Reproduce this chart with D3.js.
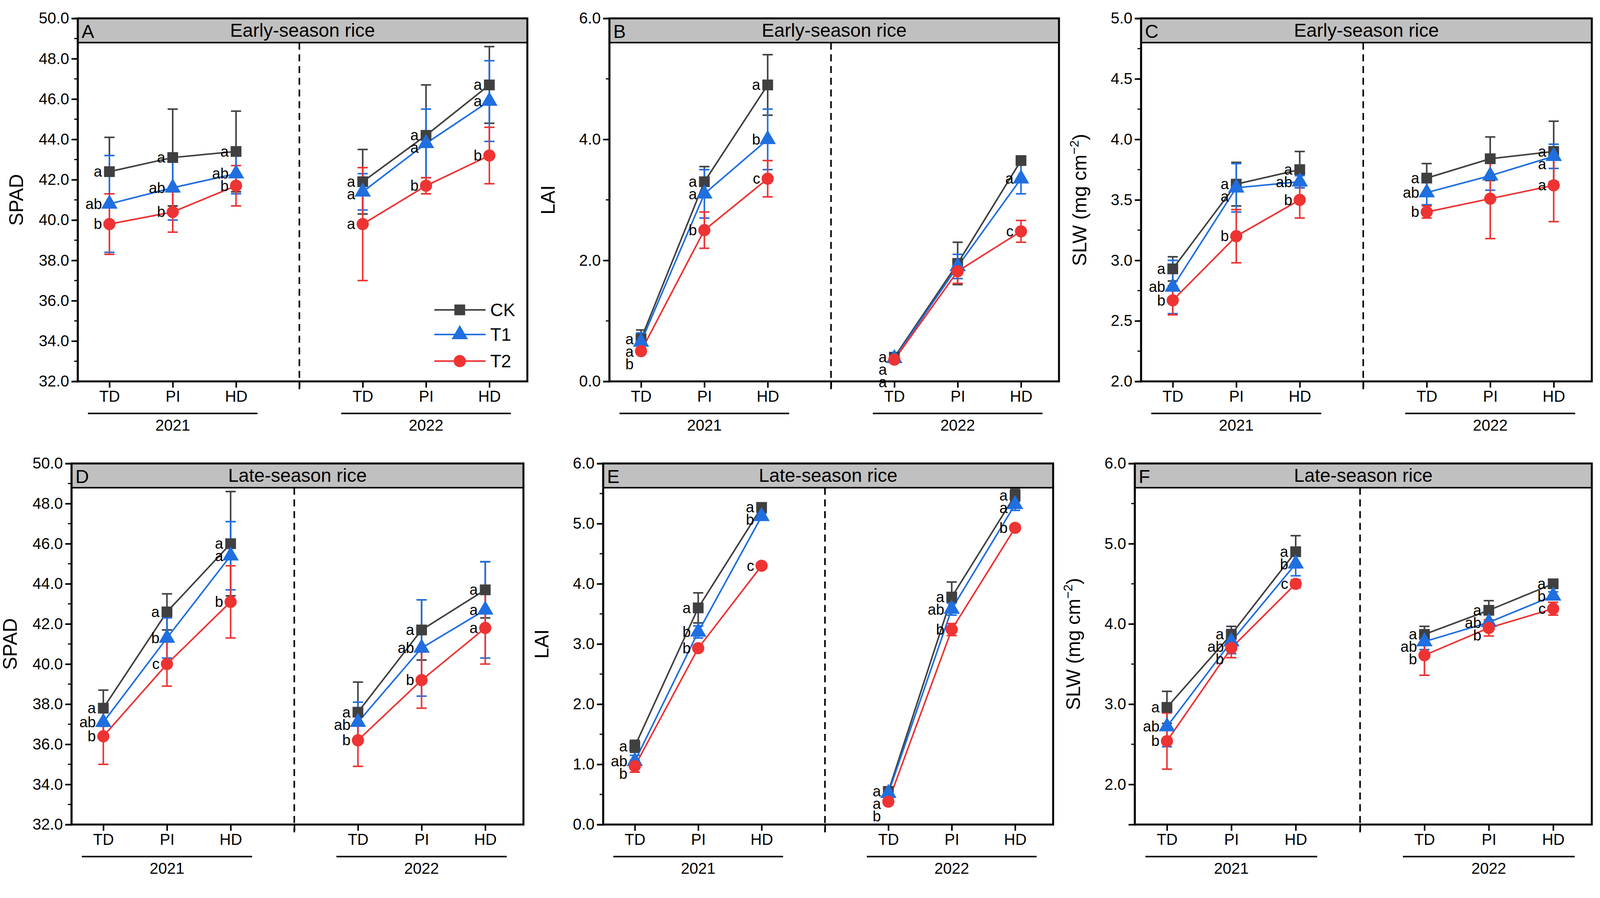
<!DOCTYPE html>
<html><head><meta charset="utf-8">
<script src="https://cdn.jsdelivr.net/npm/d3@7"></script>
<style>body{margin:0;background:#fff}text{font-family:Arial,"Liberation Sans",sans-serif}</style>
</head><body><svg id="c" width="4152" height="2298"></svg>
<script>
const stages=["TD","PI","HD"], years=["2021","2022"], series=["CK","T1","T2"];
const colors={CK:"#404040",T1:"#1f6fe0",T2:"#ee3333"};
// values: [2021 TD,PI,HD, 2022 TD,PI,HD]
const A_mean={CK:[42.4,43.1,43.4,41.9,44.2,46.7],T1:[40.8,41.6,42.3,41.4,43.8,45.9],T2:[39.8,40.4,41.7,39.8,41.7,43.2]};
const A_err={CK:[1.7,2.4,2.0,1.6,2.5,1.9],T1:[2.4,1.6,1.0,0.9,1.7,2.0],T2:[1.5,1.0,1.0,2.8,0.4,1.4]};
const A_let={CK:["a","a","a","a","a","a"],T1:["ab","ab","ab","a","a","a"],T2:["b","b","b","a","b","b"]};
const B_mean={CK:[0.7,3.3,4.9,0.4,1.95,3.65],T1:[0.65,3.1,4.0,0.38,1.9,3.35],T2:[0.5,2.5,3.35,0.36,1.82,2.48]};
const B_err={CK:[0.15,0.25,0.5,0.05,0.35,0.05],T1:[0.15,0.4,0.5,0.05,0.2,0.25],T2:[0.05,0.3,0.3,0.05,0.2,0.18]};
const B_let={CK:["a","a","a","a","",""],T1:["a","a","b","a","","a"],T2:["b","b","c","a","","c"]};
const C_mean={CK:[2.93,3.63,3.75,3.68,3.84,3.90],T1:[2.78,3.60,3.65,3.56,3.70,3.86],T2:[2.67,3.20,3.50,3.40,3.51,3.62]};
const C_err={CK:[0.1,0.18,0.15,0.12,0.18,0.25],T1:[0.22,0.2,0.05,0.1,0.12,0.1],T2:[0.12,0.22,0.15,0.05,0.33,0.3]};
const C_let={CK:["a","a","a","a","","a"],T1:["ab","a","ab","ab","","a"],T2:["b","b","b","b","","a"]};
const D_mean={CK:[37.8,42.6,46.0,37.6,41.7,43.7],T1:[37.1,41.3,45.4,37.1,40.8,42.7],T2:[36.4,40.0,43.1,36.2,39.2,41.8]};
const D_err={CK:[0.9,0.9,2.6,1.5,1.5,1.4],T1:[0.7,1.0,1.7,1.0,2.4,2.4],T2:[1.4,1.1,1.8,1.3,1.4,1.8]};
const D_let={CK:["a","a","a","a","a","a"],T1:["ab","b","a","ab","ab","a"],T2:["b","c","b","b","b","a"]};
const E_mean={CK:[1.3,3.6,5.27,0.55,3.78,5.47],T1:[1.05,3.2,5.12,0.52,3.58,5.32],T2:[0.97,2.93,4.3,0.38,3.24,4.93]};
const E_err={CK:[0.1,0.25,0.05,0.05,0.25,0.1],T1:[0.1,0.1,0.05,0.05,0.1,0.1],T2:[0.1,0.05,0.05,0.05,0.1,0.05]};
const E_let={CK:["a","a","a","a","a","a"],T1:["ab","b","b","a","ab","a"],T2:["b","b","c","b","b","b"]};
const F_mean={CK:[2.96,3.87,4.90,3.87,4.17,4.50],T1:[2.72,3.78,4.75,3.78,4.02,4.35],T2:[2.54,3.70,4.50,3.61,3.95,4.19]};
const F_err={CK:[0.2,0.1,0.2,0.1,0.12,0.05],T1:[0.25,0.15,0.15,0.1,0.1,0.05],T2:[0.35,0.12,0.05,0.25,0.1,0.08]};
const F_let={CK:["a","a","a","a","a","a"],T1:["ab","ab","b","ab","ab","b"],T2:["b","b","c","b","b","c"]};

const panels=[
 {id:"A",title:"Early-season rice",yl:"SPAD",dom:[32,50],ticks:d3.range(32,50.01,2),minor:1,m:A_mean,e:A_err,l:A_let,x0:199,x1:1350,y0:47,y1:976,legend:true},
 {id:"B",title:"Early-season rice",yl:"LAI",dom:[0,6],ticks:[0,2,4,6],minor:1,m:B_mean,e:B_err,l:B_let,x0:1560,x1:2711,y0:47,y1:976},
 {id:"C",title:"Early-season rice",yl:"SLW",dom:[2,5],ticks:d3.range(2,5.01,0.5),minor:0.25,m:C_mean,e:C_err,l:C_let,x0:2921,x1:4075,y0:47,y1:976},
 {id:"D",title:"Late-season rice",yl:"SPAD",dom:[32,50],ticks:d3.range(32,50.01,2),minor:1,m:D_mean,e:D_err,l:D_let,x0:183,x1:1340,y0:1186,y1:2110},
 {id:"E",title:"Late-season rice",yl:"LAI",dom:[0,6],ticks:d3.range(0,6.01,1),minor:0.5,m:E_mean,e:E_err,l:E_let,x0:1544,x1:2696,y0:1186,y1:2110},
 {id:"F",title:"Late-season rice",yl:"SLW",dom:[1.5,6],ticks:[2,3,4,5,6],minor:0.5,m:F_mean,e:F_err,l:F_let,x0:2905,x1:4075,y0:1186,y1:2110}
];
const svg=d3.select("#c");
const pos=[1,2,3,5,6,7];
panels.forEach(p=>{
 const g=svg.append("g");
 const x=d3.scaleLinear().domain([0.5,7.6]).range([p.x0,p.x1]);
 const y=d3.scaleLinear().domain(p.dom).range([p.y1,p.y0]);
 g.append("rect").attr("x",p.x0).attr("y",p.y0).attr("width",p.x1-p.x0).attr("height",62).attr("fill","#c0c0c0").attr("stroke","#000").attr("stroke-width",4);
 g.append("text").attr("x",(p.x0+p.x1)/2).attr("y",p.y0+47).attr("text-anchor","middle").attr("font-size",48).text(p.title);
 g.append("text").attr("x",p.x0+10).attr("y",p.y0+50).attr("font-size",48).text(p.id);
 const ya=d3.axisLeft(y).tickValues(p.ticks).tickFormat(d3.format(".1f")).tickSize(16).tickPadding(6);
 const ay=g.append("g").attr("transform",`translate(${p.x0},0)`).call(ya);
 ay.selectAll("text").attr("font-size",40).attr("fill","#000");
 ay.selectAll("line,path").attr("stroke","#000").attr("stroke-width",4);
 const mins=d3.range(p.dom[0],p.dom[1]+1e-9,p.minor);
 g.append("g").selectAll("line").data(mins).join("line").attr("x1",p.x0-9).attr("x2",p.x0).attr("y1",d=>y(d)).attr("y2",d=>y(d)).attr("stroke","#000").attr("stroke-width",3);
 g.append("rect").attr("x",p.x0).attr("y",p.y0).attr("width",p.x1-p.x0).attr("height",p.y1-p.y0).attr("fill","none").attr("stroke","#000").attr("stroke-width",5);
 const xa=d3.axisBottom(x).tickValues([1,2,3,4,5,6,7]).tickFormat(d=>d===4?"":stages[(d>4?d-5:d-1)]).tickSize(16).tickPadding(8);
 const ax=g.append("g").attr("transform",`translate(0,${p.y1})`).call(xa);
 ax.select("path").remove();
 ax.selectAll("line").attr("stroke","#000").attr("stroke-width",4);
 ax.selectAll("text").attr("font-size",40).attr("fill","#000");
 years.forEach((yr,i)=>{
  const a=x(i?5:1)-55,b=x(i?7:3)+55;
  g.append("line").attr("x1",a).attr("x2",b).attr("y1",p.y1+82).attr("y2",p.y1+82).attr("stroke","#000").attr("stroke-width",4);
  g.append("text").attr("x",(a+b)/2).attr("y",p.y1+126).attr("text-anchor","middle").attr("font-size",40).text(yr);
 });
 g.append("line").attr("x1",x(4)).attr("x2",x(4)).attr("y1",p.y0+62).attr("y2",p.y1+20).attr("stroke","#000").attr("stroke-width",4).attr("stroke-dasharray","18,12");
 const yt=g.append("text").attr("transform",`translate(${p.x0-140},${(p.y0+p.y1)/2}) rotate(-90)`).attr("text-anchor","middle").attr("font-size",50);
 if(p.yl==="SLW"){yt.text("SLW (mg cm");yt.append("tspan").attr("font-size",32).attr("dy",-20).text("−2");yt.append("tspan").attr("dy",20).text(")");}
 else yt.text(p.yl);
 const line=d3.line().x(d=>x(d[0])).y(d=>y(d[1]));
 series.forEach(s=>{
  const c=colors[s];
  [0,1].forEach(k=>{
   const pts=[0,1,2].map(j=>[pos[k*3+j],p.m[s][k*3+j]]);
   g.append("path").attr("d",line(pts)).attr("fill","none").attr("stroke",c).attr("stroke-width",4);
  });
  pos.forEach((xp,i)=>{
   const v=p.m[s][i],e=p.e[s][i],X=x(xp);
   g.append("line").attr("x1",X).attr("x2",X).attr("y1",y(v-e)).attr("y2",y(v+e)).attr("stroke",c).attr("stroke-width",4);
   [v-e,v+e].forEach(t=>g.append("line").attr("x1",X-13).attr("x2",X+13).attr("y1",y(t)).attr("y2",y(t)).attr("stroke",c).attr("stroke-width",4));
  });
 });
 series.forEach(s=>{
  pos.forEach((xp,i)=>marker(g,s,x(xp),y(p.m[s][i]),colors[s]));
 });
 // letters with min vertical spacing
 pos.forEach((xp,i)=>{
  const items=series.map(s=>({t:p.l[s][i],Y:y(p.m[s][i])+13})).filter(d=>d.t).sort((a,b)=>a.Y-b.Y);
  for(let k=1;k<items.length;k++) if(items[k].Y-items[k-1].Y<32) items[k].Y=items[k-1].Y+32;
  items.forEach(d=>g.append("text").attr("x",x(xp)-19).attr("y",d.Y).attr("text-anchor","end").attr("font-size",38).text(d.t));
 });
 if(p.legend){
  const ly=[793,856,924];
  series.forEach((s,i)=>{
   g.append("line").attr("x1",1112).attr("x2",1243).attr("y1",ly[i]).attr("y2",ly[i]).attr("stroke",colors[s]).attr("stroke-width",4);
   marker(g,s,1177,ly[i],colors[s]);
   g.append("text").attr("x",1255).attr("y",ly[i]+16).attr("font-size",46).text(s);
  });
 }
});
function marker(g,s,X,Y,c){
 const t=s==="CK"?d3.symbolSquare:s==="T1"?d3.symbolTriangle:d3.symbolCircle;
 g.append("path").attr("d",d3.symbol(t,760)()).attr("transform",`translate(${X},${Y})`).attr("fill",c);
}
</script></body></html>
